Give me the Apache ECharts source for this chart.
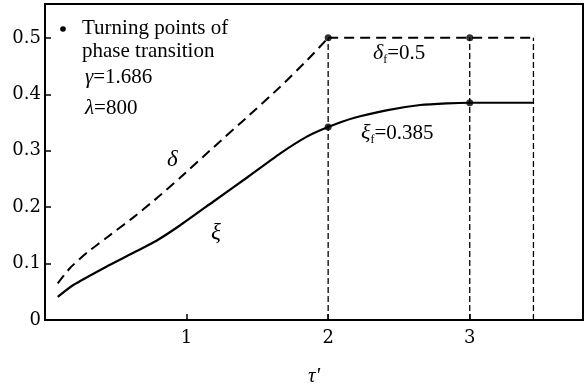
<!DOCTYPE html>
<html><head><meta charset="utf-8">
<script src="https://cdn.jsdelivr.net/npm/echarts@6/dist/echarts.min.js"></script>
<style>html,body{margin:0;padding:0;background:#fff}#c{width:588px;height:387px}</style>
</head><body><div id="c"></div>
<script>
// δ curve (rising part, then constant δf = 0.5)
const deltaRise = [[0.09,0.065],[0.18,0.093],[0.3,0.12],[0.43,0.145],[0.62,0.181],[0.79,0.216],[0.95,0.251],[1.19,0.306],[1.43,0.36],[1.66,0.413],[1.85,0.46],[2.0,0.5]];
const deltaFlat = [[2.0,0.5],[3.0,0.5],[3.45,0.5]];
// ξ curve
const xiCurve = [[0.09,0.041],[0.2,0.062],[0.43,0.094],[0.6,0.116],[0.79,0.141],[0.95,0.167],[1.19,0.21],[1.43,0.253],[1.66,0.295],[1.85,0.325],[2.0,0.342],[2.18,0.358],[2.42,0.372],[2.65,0.381],[2.84,0.384],[3.0,0.385],[3.45,0.385]];
const turningPoints = [[2,0.5],[2,0.342],[3,0.5],[3,0.385]];
const verticalX = [2, 3, 3.45];
const verticalTop = 0.5;
const xTicks = [1, 2, 3];
const yTicks = [0, 0.1, 0.2, 0.3, 0.4, 0.5];

const serif = '"Liberation Serif","DejaVu Serif",serif';
const numFont = '"DejaVu Serif","Liberation Serif",serif';
const vSeries = verticalX.map(x => ({
  type:'line', data:[[x,0],[x,verticalTop]], symbol:'none', silent:true,
  lineStyle:{color:'#000', width:1.3, type:[6,3]}, z:1
}));

const chart = echarts.init(document.getElementById('c'), null, {renderer:'canvas'});
chart.setOption({
  backgroundColor:'#fff',
  animation:false,
  grid:{left:45, right:5, top:4, bottom:67, show:true, borderColor:'#000', borderWidth:2, outerBoundsMode:'none', containLabel:false},
  xAxis:{type:'value', min:0, max:3.8, interval:1,
    name:"τ'", nameLocation:'middle', nameGap:46,
    nameTextStyle:{fontFamily:serif, fontSize:21, fontStyle:'italic', color:'#000'},
    axisLine:{show:true, lineStyle:{color:'#000', width:2}},
    axisTick:{show:true, inside:true, length:6, lineStyle:{color:'#000', width:1.5}},
    splitLine:{show:false},
    axisLabel:{color:'#000', fontFamily:numFont, fontSize:18, margin:9,
      formatter:v => xTicks.includes(v) ? String(v) : ''}
  },
  yAxis:{type:'value', min:0, max:0.56, interval:0.1,
    axisLine:{show:true, lineStyle:{color:'#000', width:2}},
    axisTick:{show:true, inside:true, length:6, lineStyle:{color:'#000', width:1.5}},
    splitLine:{show:false},
    axisLabel:{color:'#000', fontFamily:numFont, fontSize:18, margin:4,
      formatter:v => { const r = Math.round(v*10)/10; return yTicks.includes(r) && Math.abs(v-r)<1e-6 ? (r===0?'0':r.toFixed(1)) : ''; }}
  },
  series:[
    ...vSeries,
    {type:'line', data:deltaRise, symbol:'none', smooth:0.2, lineStyle:{color:'#000', width:2, type:[10,6]}, z:3},
    {type:'line', data:deltaFlat, symbol:'none', lineStyle:{color:'#000', width:2, type:[10,6]}, z:3},
    {type:'line', data:xiCurve, symbol:'none', smooth:0.2, lineStyle:{color:'#000', width:2.2}, z:3},
    {type:'scatter', data:turningPoints, symbolSize:7, itemStyle:{color:'#000'}, z:5}
  ],
  graphic:[
    {type:'circle', shape:{cx:63, cy:29, r:2.8}, style:{fill:'#000'}},
    {type:'text', left:82, top:18, style:{text:'Turning points of', fontFamily:serif, fontSize:21, fill:'#000'}},
    {type:'text', left:82, top:41, style:{text:'phase transition', fontFamily:serif, fontSize:21, fill:'#000'}},
    {type:'text', left:85, top:67, style:{text:'{i|γ}=1.686', fontFamily:serif, fontSize:21, fill:'#000',
      rich:{i:{fontStyle:'italic', fontFamily:serif, fontSize:21}}}},
    {type:'text', left:85, top:98, style:{text:'{i|λ}=800', fontFamily:serif, fontSize:21, fill:'#000',
      rich:{i:{fontStyle:'italic', fontFamily:serif, fontSize:21}}}},
    {type:'text', left:167, top:148, style:{text:'δ', fontFamily:serif, fontSize:23, fontStyle:'italic', fill:'#000'}},
    {type:'text', left:211, top:221, style:{text:'ξ', fontFamily:serif, fontSize:23, fontStyle:'italic', fill:'#000'}},
    {type:'text', left:373, top:42, style:{text:'{i|δ}{s|f}=0.5', fontFamily:serif, fontSize:21, fill:'#000',
      rich:{i:{fontStyle:'italic', fontFamily:serif, fontSize:22}, s:{fontFamily:serif, fontSize:12, padding:[13,0,0,0]}}}},
    {type:'text', left:361, top:122, style:{text:'{i|ξ}{s|f}=0.385', fontFamily:serif, fontSize:21, fill:'#000',
      rich:{i:{fontStyle:'italic', fontFamily:serif, fontSize:22}, s:{fontFamily:serif, fontSize:12, padding:[13,0,0,0]}}}}
  ]
});
</script></body></html>
